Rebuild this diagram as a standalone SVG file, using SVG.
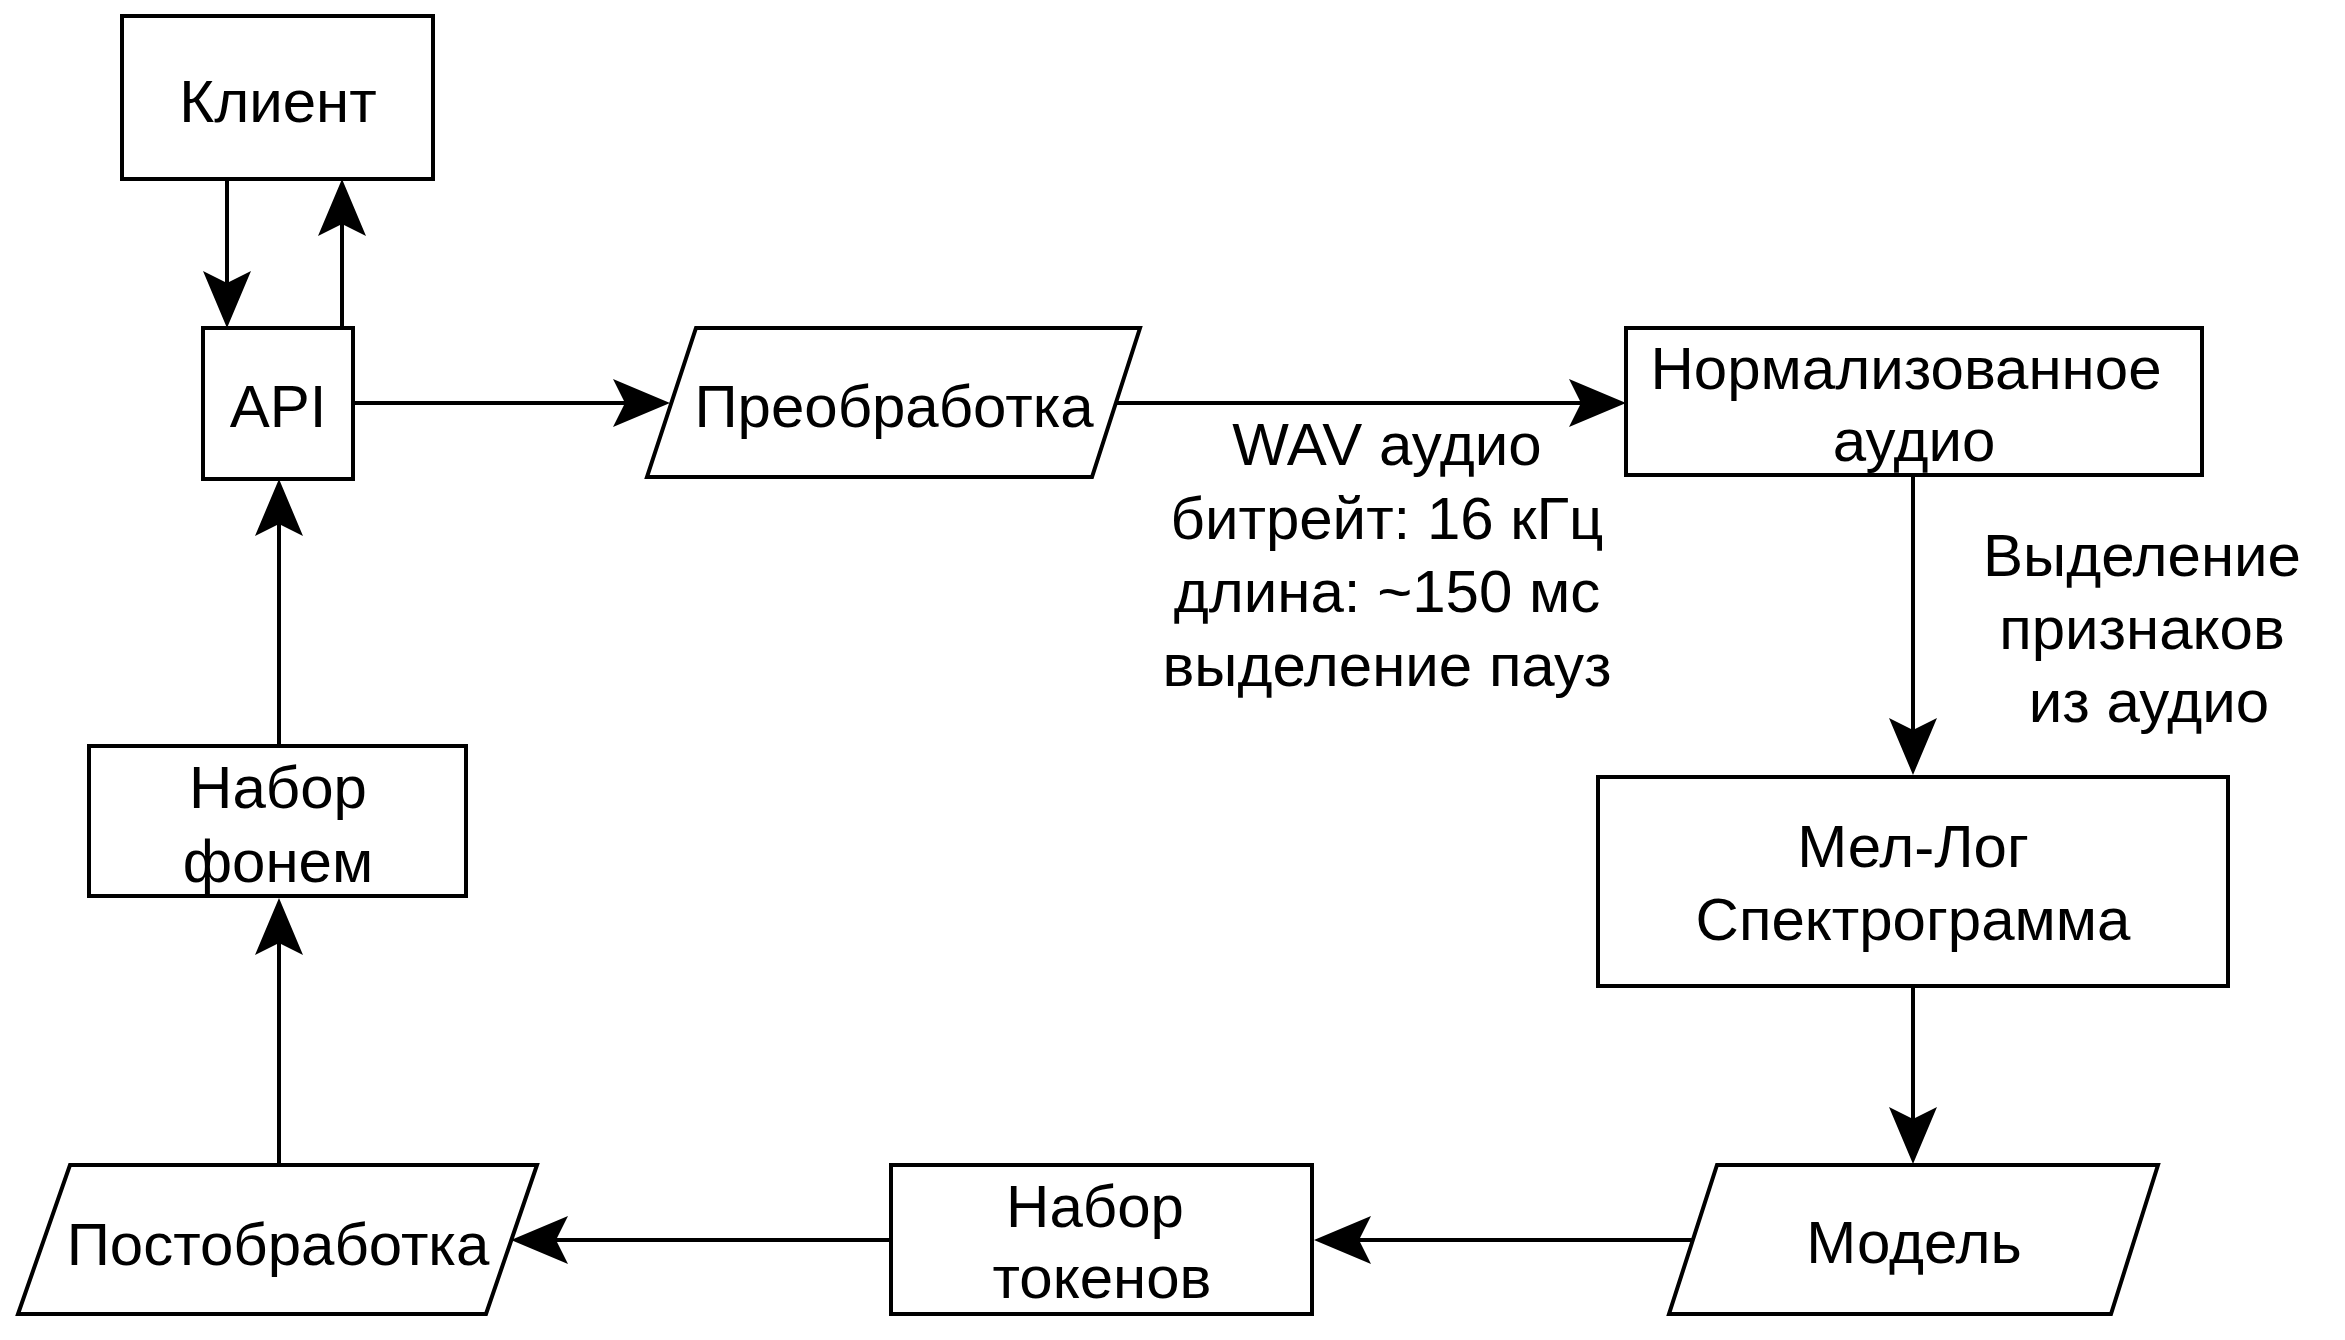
<svg xmlns="http://www.w3.org/2000/svg" width="2345" height="1340" viewBox="0 0 2345 1340">
<style>
.n{fill:#fff;stroke:#000;stroke-width:4}
.t{font-family:"Liberation Sans",Arial,sans-serif;font-size:60px;fill:#000;text-anchor:middle}
.c{fill:none;stroke:#000;stroke-width:4;marker-end:url(#arr)}
</style>
<defs>
<marker id="arr" markerUnits="userSpaceOnUse" markerWidth="60" markerHeight="50" viewBox="0 0 60 50" refX="12" refY="25" orient="auto" overflow="visible">
<path d="M0,1 L57,25 L0,49 L12,25 Z" fill="#000"/>
</marker>
</defs>
<rect width="2345" height="1340" fill="#fff"/>
<g id="connectors">
<line class="c" x1="227" y1="179" x2="227" y2="283"/>
<line class="c" x1="342" y1="328" x2="342" y2="224"/>
<line class="c" x1="353" y1="403" x2="625" y2="403"/>
<line class="c" x1="1116" y1="403" x2="1581" y2="403"/>
<line class="c" x1="1913" y1="475" x2="1913" y2="730"/>
<line class="c" x1="1913" y1="986" x2="1913" y2="1119"/>
<line class="c" x1="1693" y1="1240" x2="1359" y2="1240"/>
<line class="c" x1="891" y1="1240" x2="556" y2="1240"/>
<line class="c" x1="279" y1="1164" x2="279" y2="943"/>
<line class="c" x1="279" y1="746" x2="279" y2="524"/>
</g>
<g id="client">
<rect class="n" x="122" y="16" width="311" height="163"/>
<text class="t" x="278" y="122">Клиент</text>
</g>
<g id="api">
<rect class="n" x="203" y="328" width="150" height="151"/>
<text class="t" x="278" y="427">API</text>
</g>
<g id="preprocessing">
<polygon class="n" points="696,328 1140,328 1092,477 647,477"/>
<text class="t" x="894" y="427">Преобработка</text>
</g>
<g id="wav-label">
<text class="t" x="1387" y="465">WAV аудио</text>
<text class="t" x="1387" y="539">битрейт: 16 кГц</text>
<text class="t" x="1387" y="612">длина: ~150 мс</text>
<text class="t" x="1387" y="686">выделение пауз</text>
</g>
<g id="normalized">
<rect class="n" x="1626" y="328" width="576" height="147"/>
<text class="t" x="1906" y="389">Нормализованное</text>
<text class="t" x="1914" y="461">аудио</text>
</g>
<g id="feature-label">
<text class="t" x="2142" y="576">Выделение</text>
<text class="t" x="2142" y="649">признаков</text>
<text class="t" x="2149" y="722">из аудио</text>
</g>
<g id="mel">
<rect class="n" x="1598" y="777" width="630" height="209"/>
<text class="t" x="1913" y="867">Мел-Лог</text>
<text class="t" x="1913" y="940">Спектрограмма</text>
</g>
<g id="model">
<polygon class="n" points="1717,1165 2158,1165 2111,1314 1669,1314"/>
<text class="t" x="1914" y="1263">Модель</text>
</g>
<g id="tokens">
<rect class="n" x="891" y="1165" width="421" height="149"/>
<text class="t" x="1095" y="1227">Набор</text>
<text class="t" x="1102" y="1298">токенов</text>
</g>
<g id="postprocessing">
<polygon class="n" points="70,1165 537,1165 486,1314 18,1314"/>
<text class="t" x="278" y="1265">Постобработка</text>
</g>
<g id="phonemes">
<rect class="n" x="89" y="746" width="377" height="150"/>
<text class="t" x="278" y="808">Набор</text>
<text class="t" x="278" y="882">фонем</text>
</g>
</svg>
